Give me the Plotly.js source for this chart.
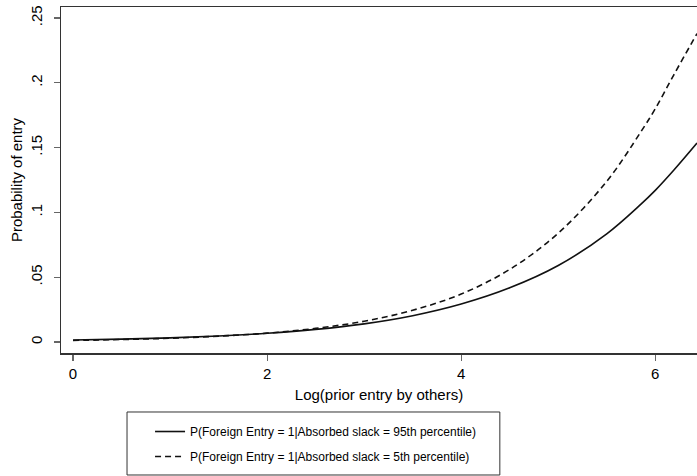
<!DOCTYPE html>
<html>
<head>
<meta charset="utf-8">
<script src="https://cdn.plot.ly/plotly-3.0.1.min.js"></script>
<style>html,body{margin:0;padding:0;background:#fff;}#chart{width:697px;height:476px;}</style>
</head>
<body>
<div id="chart"></div>
<script>
// Data
const logPriorEntry = [0, 0.5, 1, 1.5, 2, 2.5, 3, 3.5, 4, 4.5, 5, 5.5, 5.85, 6, 6.19, 6.43];
const pSlack95 = [0.0015, 0.0022, 0.0032, 0.0046, 0.0067, 0.0097, 0.0140, 0.0203, 0.0293, 0.0418, 0.0590, 0.0835, 0.1062, 0.1170, 0.1325, 0.1535];
const pSlack5  = [0.0012, 0.0019, 0.0029, 0.0045, 0.0068, 0.0105, 0.0160, 0.0245, 0.0370, 0.0560, 0.0840, 0.1240, 0.1620, 0.1800, 0.2060, 0.2380];
const seriesNames = [
  "P(Foreign Entry = 1|Absorbed slack = 95th percentile)",
  "P(Foreign Entry = 1|Absorbed slack = 5th percentile)"
];
const xTicks = [0, 2, 4, 6];
const yTicks = [0, 0.05, 0.1, 0.15, 0.2, 0.25];
const yTickText = ["0", ".05", ".1", ".15", ".2", ".25"];

const font = "Liberation Sans, Arial, Helvetica, sans-serif";

const traces = [
  {x: logPriorEntry, y: pSlack95, name: seriesNames[0], type: "scatter", mode: "lines",
   line: {color: "#111", width: 1.6, shape: "spline"}, legendgroup: "a"},
  {x: logPriorEntry, y: pSlack5, name: seriesNames[1], type: "scatter", mode: "lines",
   line: {color: "#111", width: 1.6, dash: "6px,4px", shape: "spline"}, legendgroup: "b"}
];

const axisCommon = {
  showgrid: false, zeroline: false, showline: true, linecolor: "#333", linewidth: 1.5,
  ticks: "outside", ticklen: 6, tickcolor: "#666", tickwidth: 1.2,
  tickfont: {family: font, size: 15, color: "#000"}
};

const layout = {
  width: 697, height: 476,
  margin: {l: 61, r: 0, t: 7, b: 123},
  paper_bgcolor: "#fff", plot_bgcolor: "#fff",
  showlegend: true,
  xaxis: Object.assign({}, axisCommon, {
    range: [-0.124, 6.43], tickvals: xTicks, mirror: true,
    title: {text: "Log(prior entry by others)", font: {family: font, size: 15, color: "#000"}, standoff: 9}
  }),
  yaxis: Object.assign({}, axisCommon, {
    range: [-0.0085, 0.2585], tickvals: yTicks, ticktext: yTickText, tickangle: -90,
    ticklabelstandoff: 6,
    title: {text: "Probability of entry", font: {family: font, size: 15, color: "#000"}, standoff: 1}
  }),
  legend: {
    x: 0.14, y: -0.185, xanchor: "left", yanchor: "top",
    borderwidth: 0, bgcolor: "rgba(0,0,0,0)",
    font: {family: font, size: 12, color: "#000"},
    traceorder: "grouped", tracegroupgap: 6
  },
  shapes: [{
    type: "rect", xref: "paper", yref: "paper",
    x0: 0.1038, x1: 0.690, y0: -0.3526, y1: -0.1705,
    line: {color: "#333", width: 1}, fillcolor: "rgba(0,0,0,0)", layer: "below"
  }]
};

Plotly.newPlot("chart", traces, layout, {displayModeBar: false, staticPlot: true});
</script>
</body>
</html>
